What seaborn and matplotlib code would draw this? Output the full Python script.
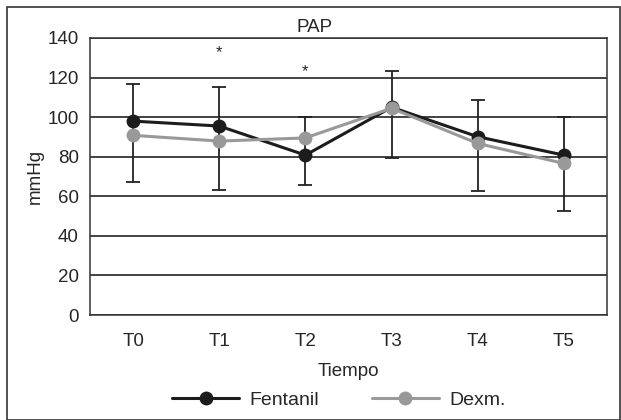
import numpy as np
import pandas as pd
import seaborn as sns
import matplotlib.pyplot as plt
from matplotlib.patches import Rectangle

# data
tiempos = ["T0", "T1", "T2", "T3", "T4", "T5"]
fentanil = [98.0, 95.5, 80.8, 105.0, 90.1, 80.8]
dexm = [90.8, 87.9, 89.5, 104.5, 86.7, 76.6]
err_low = [67.0, 63.3, 65.7, 79.1, 62.5, 52.5]
err_high = [116.5, 115.3, 100.2, 123.2, 108.9, 100.2]
star_pos = ["T1", "T2"]
star_y = [132.5, 122.9]

sns.set_style("white")
plt.rcParams['font.family'] = ['Liberation Sans', 'DejaVu Sans']
FS = 13.5

df = pd.DataFrame({
    "Tiempo": tiempos * 2,
    "mmHg": fentanil + dexm,
    "grupo": ["Fentanil"] * len(tiempos) + ["Dexm."] * len(tiempos),
})

fig = plt.figure(figsize=(6.21, 4.2), dpi=100)
ax = fig.add_axes([90 / 621, 1 - 315 / 420, 517 / 621, 277 / 420])

# error bars (single bar per time point)
xpos = np.arange(len(tiempos))
mid = (np.array(err_low) + np.array(err_high)) / 2
ax.errorbar(xpos, mid, yerr=[mid - np.array(err_low), np.array(err_high) - mid],
            fmt='none', ecolor='#222222', elinewidth=1.3, capsize=5, capthick=1.3, zorder=2)

sns.lineplot(data=df, x="Tiempo", y="mmHg", hue="grupo", sort=False,
             palette={"Fentanil": "#1c1c1c", "Dexm.": "#999999"},
             marker="o", markersize=10, markeredgewidth=0, linewidth=2.2,
             ax=ax, zorder=3, legend=False)

for lab, yy in zip(star_pos, star_y):
    ax.text(tiempos.index(lab), yy, "*", ha="center", va="center", fontsize=12)

ax.set_xlim(-0.5, 5.5)
ax.set_ylim(0, 140)
ax.set_yticks(range(0, 141, 20))
ax.set_xticks(xpos)
ax.set_xticklabels(tiempos)
ax.yaxis.grid(True, color="#111111", linewidth=1.1)
ax.set_axisbelow(True)
for s in ax.spines.values():
    s.set_color("#333333")
    s.set_linewidth(1.1)
ax.tick_params(axis="both", direction="out", length=5, width=1, color="#333333",
               labelsize=FS, pad=3)
ax.tick_params(axis="x", pad=8)
ax.set_title("PAP", fontsize=FS, pad=4, x=0.434)
ax.set_xlabel("Tiempo", fontsize=FS, labelpad=9)
ax.set_ylabel("mmHg", fontsize=FS, labelpad=3)

h1, = ax.plot([], [], color="#1c1c1c", marker="o", markersize=10, markeredgewidth=0, linewidth=2.2)
h2, = ax.plot([], [], color="#999999", marker="o", markersize=10, markeredgewidth=0, linewidth=2.2)
fig.legend([h1, h2], ["Fentanil", "Dexm."], loc="center", bbox_to_anchor=(0.546, 1 - 400 / 420),
           ncol=2, frameon=False, fontsize=14, handlelength=3.45, columnspacing=2.7, handletextpad=0.55)

fig.patches.append(Rectangle((7 / 621, 0.5 / 420), 613 / 621, 413 / 420, transform=fig.transFigure,
                             fill=False, edgecolor="#333333", linewidth=1.2))

fig.savefig("out.png", dpi=100)
